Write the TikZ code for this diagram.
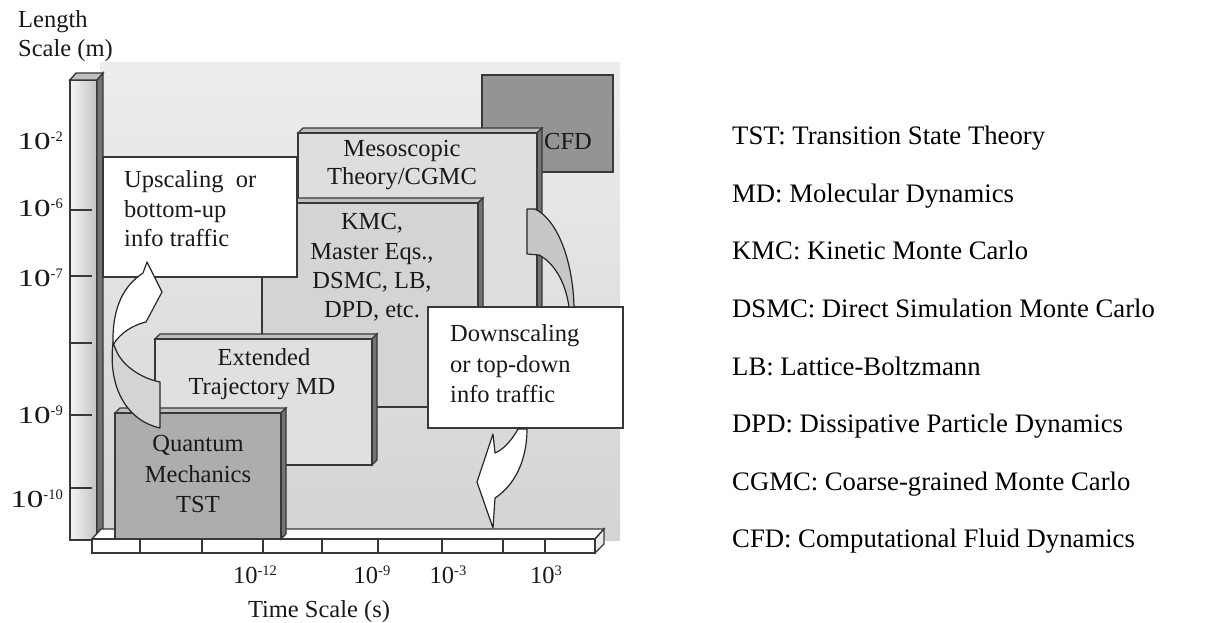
\documentclass[tikz,border=0pt]{standalone}
\usepackage{fontspec}
\setmainfont{Liberation Serif}
\usepackage{graphicx}
\newcommand\dfont{\fontsize{24.5bp}{29bp}\selectfont}
\newcommand\lfont{\fontsize{26.7bp}{30bp}\selectfont}
\newcommand\sps[1]{\raisebox{8bp}{\fontsize{14.5bp}{15bp}\selectfont #1}}
\newcommand\tenY{\scalebox{1.35}[1]{10}}
\newcommand\threedbox[5]{%
  \filldraw[topface] (#1,#2) -- ({#1+5},{#2-5}) -- ({#3+5},{#2-5}) -- (#3,#2) -- cycle;
  \filldraw[sideface] (#3,#2) -- ({#3+5},{#2-5}) -- ({#3+5},{#4-5}) -- (#3,#4) -- cycle;
  \filldraw[edge, fill=#5] (#1,#2) rectangle (#3,#4);
}
\begin{document}
\begin{tikzpicture}[x=1bp,y=-1bp,
  edge/.style={draw=black!78, line width=1.4bp, line join=miter},
  txt/.style={inner sep=0pt, anchor=base, font=\dfont, text=black!90},
  ltxt/.style={txt, anchor=base west},
  ylab/.style={txt, anchor=base east},
  leg/.style={inner sep=0pt, anchor=base west, font=\lfont, text=black},
  topface/.style={edge, fill=black!25},
  sideface/.style={edge, fill=black!55},
  arrowline/.style={draw=black!85, line width=1.2bp, line join=round},
]
\useasboundingbox (0,0) rectangle (1211,623);
% background
\shade[top color=black!7, bottom color=black!17] (100,63) rectangle (620,540);
% vertical axis bar
\shade[left color=black!4, right color=black!24] (70,80) rectangle (97,540);
\draw[edge] (70,80) rectangle (97,540);
\filldraw[sideface] (97,80) -- (103,73) -- (103,534) -- (97,540) -- cycle;
\filldraw[topface] (70,80) -- (76,73) -- (103,73) -- (97,80) -- cycle;
\foreach \y in {210,276,343,415,488} \draw[edge] (70,\y) -- (92,\y);
% horizontal axis bar
\filldraw[edge, fill=white] (92,539) -- (101,529) -- (604,529) -- (595,539) -- cycle;
\filldraw[edge, fill=black!8] (595,539) -- (604,529) -- (604,544) -- (595,553) -- cycle;
\filldraw[edge, fill=white] (92,539) rectangle (595,553);
\foreach \x in {140,202,263,322,378,442,503,545} \draw[edge] (\x,539) -- (\x,553);
% CFD
\filldraw[edge, fill=black!42, line width=2bp] (482,75) rectangle (613,172);
% Mesoscopic
\threedbox{298}{133}{537}{400}{black!13}
% KMC
\threedbox{262}{203}{478}{407}{black!17}
% Upscaling box
\filldraw[edge, fill=white] (103,157) rectangle (297,277);
% Extended
\threedbox{155}{339}{372}{465}{black!12}
% Quantum
\threedbox{115}{413}{281}{539}{black!32}
% Downscaling box
\filldraw[edge, fill=white] (428,307) rectangle (623,428);
% upscaling arrow
\filldraw[arrowline, fill=black!17] (113,343) .. controls (108,385) and (125,420) .. (160,428) -- (160,382) .. controls (140,378) and (122,365) .. (116,350) -- cycle;
\filldraw[arrowline, fill=white] (113,345) .. controls (112,305) and (125,285) .. (143,273) -- (147,262) -- (162,292) -- (146,322) .. controls (133,325) and (120,333) .. (113,345) -- cycle;
% downscaling arrow
\filldraw[arrowline, fill=black!22] (527,209) -- (535,209) .. controls (558,220) and (573,262) .. (574,307) -- (569,307) .. controls (566,285) and (556,264) .. (539,255) -- (527,254) -- cycle;
\filldraw[arrowline, fill=white] (518,429) .. controls (512,440) and (503,450) .. (495,453) -- (493,434) -- (477,482) -- (493,528) -- (495,498) .. controls (515,485) and (527,460) .. (527,429) -- cycle;
% axis texts
\node[ltxt] (len1) at (18,28) {Length};
\node[ltxt] (len2) at (18,57) {Scale (m)};
\node[ylab] (y2) at (63,150) {\tenY\sps{-2}};
\node[ylab] (y6) at (63,217) {\tenY\sps{-6}};
\node[ylab] (y7) at (63,287) {\tenY\sps{-7}};
\node[ylab] (y9) at (63,423) {\tenY\sps{-9}};
\node[ylab] (y10) at (63,507) {\tenY\sps{-10}};
\node[txt] (x12) at (255,583) {10\sps{-12}};
\node[txt] (x9) at (372,583) {10\sps{-9}};
\node[txt] (x3m) at (448,583) {10\sps{-3}};
\node[txt] (x3) at (546,583) {10\sps{3}};
\node[txt] (tlab) at (319,617) {Time Scale (s)};
% box texts
\node[txt] (q1) at (198,451) {Quantum};
\node[txt] (q2) at (198,482) {Mechanics};
\node[txt] (q3) at (198,512) {TST};
\node[txt] (e1) at (264,365) {Extended};
\node[txt] (e2) at (262,394) {Trajectory MD};
\node[txt] (k1) at (372,230) {KMC,};
\node[txt] (k2) at (372,260) {Master Eqs.,};
\node[txt] (k3) at (372,289) {DSMC, LB,};
\node[txt] (k4) at (372,318) {DPD, etc.};
\node[txt] (m1) at (402,157) {Mesoscopic};
\node[txt] (m2) at (402,185) {Theory/CGMC};
\node[txt] (cfd) at (568,150) {CFD};
\node[ltxt] (u1) at (124,188) {Upscaling\ \ or};
\node[ltxt] (u2) at (124,218) {bottom-up};
\node[ltxt] (u3) at (124,247) {info traffic};
\node[ltxt] (d1) at (450,342) {Downscaling};
\node[ltxt] (d2) at (450,372) {or top-down};
\node[ltxt] (d3) at (450,402) {info traffic};
% legend
\node[leg] (l1) at (732,145) {TST: Transition State Theory};
\node[leg] (l2) at (732,202.5) {MD: Molecular Dynamics};
\node[leg] (l3) at (732,260) {KMC: Kinetic Monte Carlo};
\node[leg] (l4) at (732,317.5) {DSMC: Direct Simulation Monte Carlo};
\node[leg] (l5) at (732,375) {LB: Lattice-Boltzmann};
\node[leg] (l6) at (732,432.5) {DPD: Dissipative Particle Dynamics};
\node[leg] (l7) at (732,490) {CGMC: Coarse-grained Monte Carlo};
\node[leg] (l8) at (732,547.5) {CFD: Computational Fluid Dynamics};
\end{tikzpicture}
\end{document}
